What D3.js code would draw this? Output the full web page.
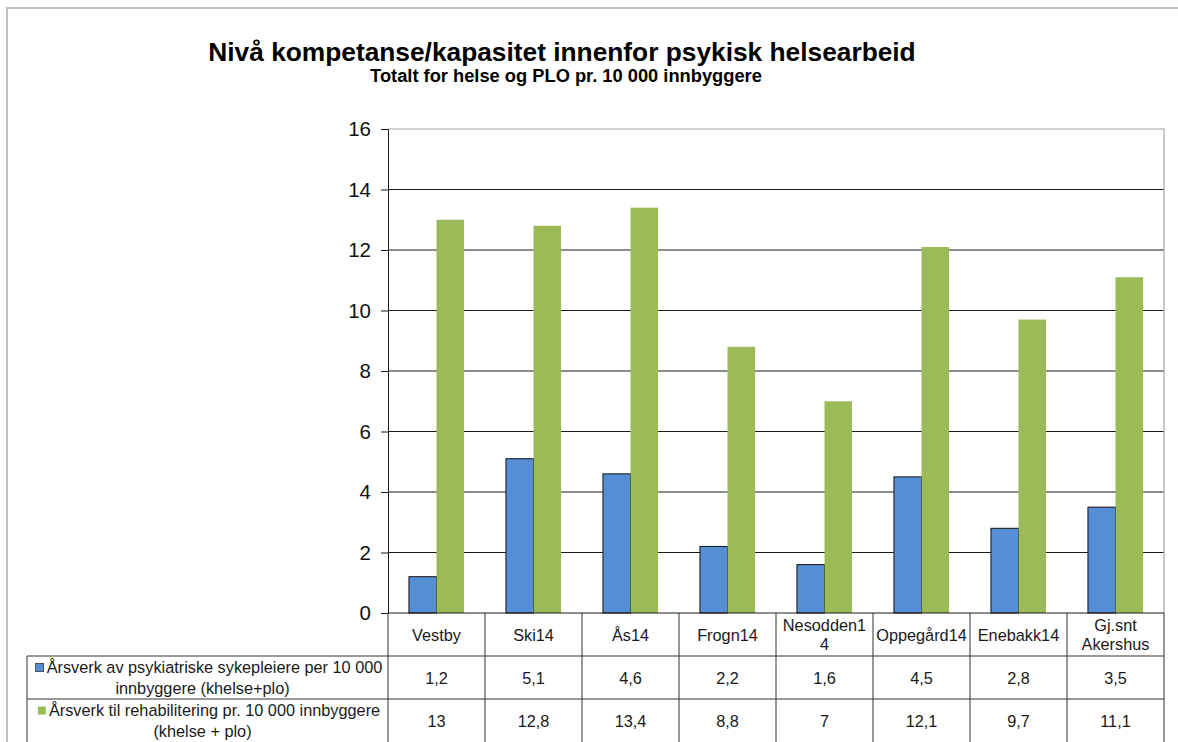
<!DOCTYPE html>
<html>
<head>
<meta charset="utf-8">
<script src="https://cdn.jsdelivr.net/npm/d3@7"></script>
<style>
  html, body { margin: 0; padding: 0; background: #fff; }
  svg { display: block; font-family: "Liberation Sans", Arial, sans-serif; }
</style>
</head>
<body>
<svg id="chart" width="1178" height="742"></svg>
<script>
// Kommuner (kategorier) – linjeskift i tabellhodet som i Excel
const categories = ["Vestby", "Ski14", "Ås14", "Frogn14", "Nesodden14", "Oppegård14", "Enebakk14", "Gj.snt Akershus"];
const categoryLines = [["Vestby"], ["Ski14"], ["Ås14"], ["Frogn14"], ["Nesodden1", "4"], ["Oppegård14"], ["Enebakk14"], ["Gj.snt", "Akershus"]];

// Serie 1: årsverk psykiatriske sykepleiere per 10 000 innbyggere
const sykepleiere = [1.2, 5.1, 4.6, 2.2, 1.6, 4.5, 2.8, 3.5];
// Serie 2: årsverk til rehabilitering per 10 000 innbyggere
const rehabilitering = [13, 12.8, 13.4, 8.8, 7, 12.1, 9.7, 11.1];

const seriesNames = [
  ["Årsverk av psykiatriske sykepleiere per 10 000", "innbyggere (khelse+plo)"],
  ["Årsverk til rehabilitering pr. 10 000 innbyggere", "(khelse + plo)"]
];
const yTicks = [0, 2, 4, 6, 8, 10, 12, 14, 16];

const title = "Nivå kompetanse/kapasitet innenfor psykisk helsearbeid";
const subtitle = "Totalt for helse og PLO pr. 10 000 innbyggere";

const colors = ["#558ed5", "#9bbb59"];
const series = [sykepleiere, rehabilitering];

const svg = d3.select("#chart");
const W = 1178, H = 742;
const plot = { left: 388, right: 1164, top: 129, bottom: 613 };
const rowY = [613, 656, 699, 742];
const legendLeft = 27;
const tableFont = 16.3;

// Ytre ramme
svg.append("path")
  .attr("d", `M7,${H} V8 H${W}`)
  .attr("fill", "none").attr("stroke", "#c0c0c0").attr("stroke-width", 2);

// Titler
svg.append("text").attr("x", 562).attr("y", 61).attr("text-anchor", "middle")
  .attr("font-size", 26.3).attr("font-weight", "bold").attr("fill", "#000").text(title);
svg.append("text").attr("x", 566).attr("y", 82).attr("text-anchor", "middle")
  .attr("font-size", 18.3).attr("font-weight", "bold").attr("fill", "#000").text(subtitle);

// Skalaer
const x0 = d3.scaleBand().domain(categories).range([plot.left, plot.right]).padding(0);
const bw = x0.bandwidth();
const x1 = d3.scaleBand().domain([0, 1]).range([bw * 0.216, bw * 0.784]).padding(0);
const y = d3.scaleLinear().domain([0, 16]).range([plot.bottom, plot.top]);

// Rutenett
svg.append("g").selectAll("line").data(yTicks.filter(t => t > 0 && t < 16)).join("line")
  .attr("x1", plot.left).attr("x2", plot.right)
  .attr("y1", d => y(d)).attr("y2", d => y(d))
  .attr("stroke", "#1a1a1a").attr("stroke-width", 1);

// Plotramme (grå topp og høyre side)
svg.append("path")
  .attr("d", `M${plot.left},${y(16)} H${plot.right} V${plot.bottom}`)
  .attr("fill", "none").attr("stroke", "#a6a6a6").attr("stroke-width", 1.2);

// Søyler
const groups = svg.append("g").selectAll("g").data(categories).join("g")
  .attr("transform", d => `translate(${x0(d)},0)`);
groups.selectAll("rect")
  .data((d, i) => series.map((s, k) => ({ k, v: s[i] })))
  .join("rect")
  .attr("x", d => x1(d.k))
  .attr("width", x1.bandwidth())
  .attr("y", d => y(d.v))
  .attr("height", d => y(0) - y(d.v))
  .attr("fill", d => colors[d.k])
  .attr("stroke", d => d.k === 0 ? "#111" : "none")
  .attr("stroke-width", 1);

// Y-akse
const yAxis = d3.axisLeft(y).tickValues(yTicks).tickSize(7).tickPadding(10)
  .tickFormat(d3.format("d"));
const gy = svg.append("g").attr("transform", `translate(${plot.left},0)`).call(yAxis);
gy.select(".domain").attr("stroke", "#1a1a1a");
gy.selectAll(".tick line").attr("stroke", "#1a1a1a");
gy.selectAll(".tick text").attr("font-size", 20.5).attr("fill", "#111")
  .attr("font-family", "Liberation Sans, Arial, sans-serif");

// Nullinje
svg.append("line").attr("x1", plot.left).attr("x2", plot.right)
  .attr("y1", y(0)).attr("y2", y(0)).attr("stroke", "#1a1a1a");

// Datatabell
const tbl = svg.append("g").attr("stroke", "#333").attr("stroke-width", 1);
// vertikale linjer
categories.forEach(c => {
  tbl.append("line").attr("x1", x0(c)).attr("x2", x0(c)).attr("y1", rowY[0]).attr("y2", H);
});
tbl.append("line").attr("x1", plot.right).attr("x2", plot.right).attr("y1", rowY[0]).attr("y2", H);
tbl.append("line").attr("x1", legendLeft).attr("x2", legendLeft).attr("y1", rowY[1]).attr("y2", H);
// horisontale linjer
[rowY[1], rowY[2]].forEach(yy => {
  tbl.append("line").attr("x1", legendLeft).attr("x2", plot.right).attr("y1", yy).attr("y2", yy);
});

const cellText = svg.append("g").attr("font-size", tableFont).attr("fill", "#1a1a1a");

// Tabellhode
categories.forEach((c, i) => {
  const lines = categoryLines[i];
  const cx = x0(c) + bw / 2;
  const cy = (rowY[0] + rowY[1]) / 2;
  lines.forEach((ln, j) => {
    cellText.append("text").attr("x", cx)
      .attr("y", cy + (j - (lines.length - 1) / 2) * 19 + 6)
      .attr("text-anchor", "middle").text(ln);
  });
});

// Verdier
series.forEach((s, k) => {
  const cy = (rowY[k + 1] + rowY[k + 2]) / 2;
  s.forEach((v, i) => {
    cellText.append("text").attr("x", x0(categories[i]) + bw / 2).attr("y", cy + 6)
      .attr("text-anchor", "middle").text(String(v).replace(".", ","));
  });
});

// Forklaring i tabellens første kolonne
const legendCx = (legendLeft + plot.left) / 2 + 1;
seriesNames.forEach((lines, k) => {
  const cy = (rowY[k + 1] + rowY[k + 2]) / 2;
  const t1 = cellText.append("text").attr("y", cy - 10 + 5).text(lines[0]);
  const w1 = t1.node().getComputedTextLength();
  const mark = 12;
  const start = legendCx - (w1 + mark) / 2;
  t1.attr("x", start + mark);
  svg.append("rect").attr("x", start + 1).attr("y", cy - 10 - 4).attr("width", 8).attr("height", 8)
    .attr("fill", colors[k]).attr("stroke", k === 0 ? "#333" : "none").attr("stroke-width", 0.8);
  cellText.append("text").attr("x", legendCx - 6).attr("y", cy + 11 + 5)
    .attr("text-anchor", "middle").text(lines[1]);
});
</script>
</body>
</html>
